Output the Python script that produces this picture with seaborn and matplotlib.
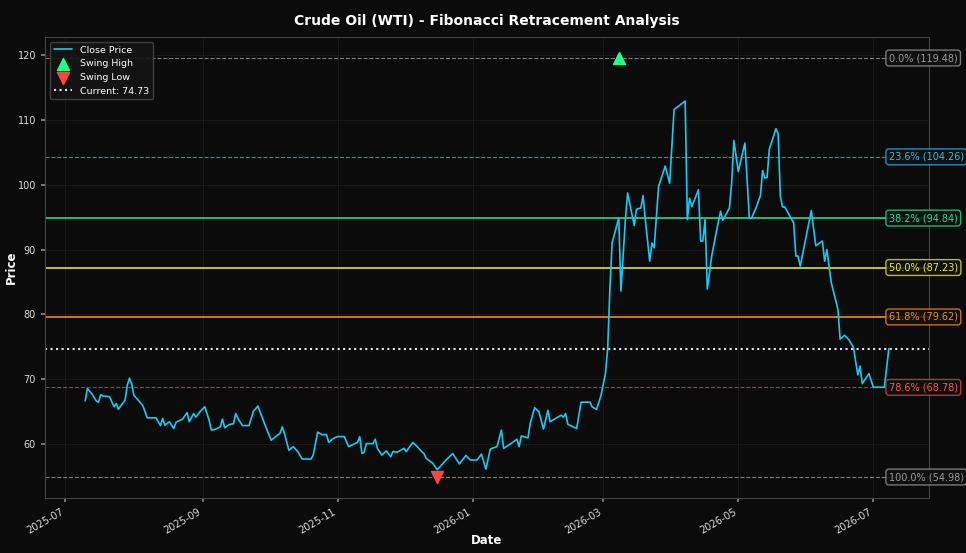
import pandas as pd
import numpy as np
import seaborn as sns
import matplotlib.pyplot as plt
import matplotlib.dates as mdates

sns.set_theme(style="darkgrid")
plt.rcParams['font.family'] = ['DejaVu Sans']

# Close prices
dates = [
    "2025-07-10", "2025-07-11", "2025-07-13", "2025-07-15", "2025-07-16", "2025-07-17", "2025-07-18",
    "2025-07-21", "2025-07-23", "2025-07-24", "2025-07-25", "2025-07-26", "2025-07-28", "2025-07-29",
    "2025-07-30", "2025-07-31", "2025-08-01", "2025-08-03", "2025-08-05", "2025-08-07", "2025-08-11",
    "2025-08-13", "2025-08-14", "2025-08-15", "2025-08-17", "2025-08-19", "2025-08-20", "2025-08-23",
    "2025-08-25", "2025-08-26", "2025-08-28", "2025-08-29", "2025-08-31", "2025-09-02", "2025-09-04",
    "2025-09-05", "2025-09-07", "2025-09-09", "2025-09-10", "2025-09-11", "2025-09-13", "2025-09-15",
    "2025-09-16", "2025-09-17", "2025-09-19", "2025-09-22", "2025-09-24", "2025-09-26", "2025-09-27",
    "2025-09-29", "2025-10-02", "2025-10-04", "2025-10-06", "2025-10-07", "2025-10-08", "2025-10-10",
    "2025-10-12", "2025-10-14", "2025-10-16", "2025-10-20", "2025-10-21", "2025-10-23", "2025-10-25",
    "2025-10-27", "2025-10-28", "2025-10-30", "2025-11-01", "2025-11-04", "2025-11-06", "2025-11-08",
    "2025-11-10", "2025-11-11", "2025-11-12", "2025-11-13", "2025-11-14", "2025-11-17", "2025-11-18",
    "2025-11-19", "2025-11-21", "2025-11-23", "2025-11-25", "2025-11-26", "2025-11-28", "2025-12-01",
    "2025-12-02", "2025-12-05", "2025-12-07", "2025-12-09", "2025-12-10", "2025-12-11", "2025-12-14",
    "2025-12-16", "2025-12-20", "2025-12-23", "2025-12-26", "2025-12-29", "2025-12-31", "2026-01-03",
    "2026-01-05", "2026-01-07", "2026-01-09", "2026-01-12", "2026-01-14", "2026-01-15", "2026-01-18",
    "2026-01-21", "2026-01-22", "2026-01-23", "2026-01-26", "2026-01-27", "2026-01-29", "2026-01-31",
    "2026-02-02", "2026-02-04", "2026-02-05", "2026-02-08", "2026-02-10", "2026-02-11", "2026-02-12",
    "2026-02-13", "2026-02-17", "2026-02-19", "2026-02-23", "2026-02-24", "2026-02-26", "2026-02-28",
    "2026-03-02", "2026-03-03", "2026-03-04", "2026-03-05", "2026-03-08", "2026-03-09", "2026-03-11",
    "2026-03-12", "2026-03-15", "2026-03-16", "2026-03-18", "2026-03-19", "2026-03-20", "2026-03-22",
    "2026-03-23", "2026-03-24", "2026-03-26", "2026-03-29", "2026-03-31", "2026-04-02", "2026-04-07",
    "2026-04-08", "2026-04-09", "2026-04-10", "2026-04-13", "2026-04-14", "2026-04-15", "2026-04-16",
    "2026-04-17", "2026-04-19", "2026-04-21", "2026-04-23", "2026-04-24", "2026-04-27", "2026-04-28",
    "2026-04-29", "2026-05-01", "2026-05-04", "2026-05-06", "2026-05-07", "2026-05-09", "2026-05-11",
    "2026-05-12", "2026-05-13", "2026-05-14", "2026-05-15", "2026-05-18", "2026-05-19", "2026-05-20",
    "2026-05-21", "2026-05-22", "2026-05-26", "2026-05-27", "2026-05-28", "2026-05-29", "2026-06-03",
    "2026-06-05", "2026-06-08", "2026-06-09", "2026-06-10", "2026-06-12", "2026-06-15", "2026-06-16",
    "2026-06-18", "2026-06-20", "2026-06-22", "2026-06-24", "2026-06-25", "2026-06-26", "2026-06-29",
    "2026-06-30", "2026-07-01", "2026-07-06", "2026-07-08",
]
close = [
    66.7, 68.6, 67.8, 66.7, 66.5, 67.65, 67.45,
    67.35, 65.8, 66.3, 65.4, 65.9, 66.8, 69.1,
    70.2, 69.3, 67.55, 66.8, 66.0, 64.1, 64.1,
    62.9, 64.0, 62.95, 63.5, 62.45, 63.4, 63.9,
    64.9, 63.5, 64.75, 64.2, 65.1, 65.8, 63.7,
    62.2, 62.35, 62.7, 63.9, 62.55, 63.05, 63.2,
    64.75, 64.0, 62.9, 62.9, 65.1, 65.9, 65.0,
    63.2, 60.65, 61.2, 61.7, 62.7, 61.7, 59.1,
    59.65, 58.9, 57.75, 57.75, 58.35, 61.9, 61.5,
    61.5, 60.3, 60.9, 61.2, 61.2, 59.65, 60.0,
    60.3, 61.2, 58.6, 58.8, 60.15, 60.1, 60.8,
    59.4, 58.35, 59.0, 58.1, 58.9, 58.8, 59.4,
    58.9, 60.3, 59.65, 58.9, 58.6, 57.85, 57.1,
    56.1, 57.6, 58.6, 57.0, 58.3, 57.6, 57.6,
    58.5, 56.2, 59.3, 59.65, 62.2, 59.4, 60.05,
    60.8, 59.65, 61.3, 61.0, 63.2, 65.65, 65.0,
    62.35, 65.25, 63.5, 64.1, 64.5, 64.2, 64.75,
    63.1, 62.45, 66.5, 66.5, 65.77, 65.4, 67.55,
    70.9, 74.7, 83.9, 91.0, 94.85, 83.6, 94.6,
    98.7, 93.7, 96.2, 96.4, 98.3, 94.6, 88.2,
    91.0, 90.25, 99.7, 102.85, 100.2, 111.55, 112.85,
    94.6, 97.9, 96.6, 99.2, 91.3, 91.3, 94.6,
    83.9, 89.0, 92.55, 95.9, 94.5, 96.4, 100.2,
    106.8, 102.0, 106.4, 94.85, 94.85, 96.4, 98.3,
    102.15, 101.0, 101.1, 105.4, 108.6, 107.85, 98.2,
    96.55, 96.55, 94.1, 89.0, 89.0, 87.45, 96.0,
    90.6, 91.3, 88.2, 90.0, 84.9, 80.8, 76.2,
    76.8, 76.1, 74.95, 70.7, 72.05, 69.35, 70.9,
    69.85, 68.8, 68.8, 74.73,
]

swing_high_date = "2026-03-08"
swing_high = 119.48
swing_low_date = "2025-12-16"
swing_low = 54.98
current = 74.73

fib_names = ["0.0%", "23.6%", "38.2%", "50.0%", "61.8%", "78.6%", "100.0%"]
fib_values = [119.48, 104.26, 94.84, 87.23, 79.62, 68.78, 54.98]
fib_colors = ["#8a8a8a", "#2ea3cf", "#1ed184", "#d8d822", "#e8821e", "#c8403a", "#8a8a8a"]
fib_text_colors = ["#9a9a9a", "#3cb8e8", "#2bdc8c", "#f0f040", "#f08a30", "#ff5555", "#9a9a9a"]
fib_styles = ["--", "--", "-", "-", "-", "--", "--"]

df = pd.DataFrame({"Date": pd.to_datetime(dates), "Close": close})

bg = "#0b0b0b"
fig, ax = plt.subplots(figsize=(9.66, 5.53), dpi=100)
fig.patch.set_facecolor(bg)
ax.set_facecolor(bg)
fig.subplots_adjust(left=0.0466, right=0.9617, top=0.933, bottom=0.0995)

for name, val, col, ls in zip(fib_names, fib_values, fib_colors, fib_styles):
    lw = 1.4 if ls == "-" else 0.8
    ax.axhline(val, color=col, linestyle=ls, linewidth=lw, alpha=0.9, zorder=1)

sns.lineplot(data=df, x="Date", y="Close", ax=ax, color="#19c9f2", linewidth=1.2,
             label="Close Price", zorder=3)
ax.scatter(pd.to_datetime([swing_high_date]), [swing_high], marker="^", s=75,
           color="#22ff8a", label="Swing High", zorder=5)
ax.scatter(pd.to_datetime([swing_low_date]), [swing_low], marker="v", s=75,
           color="#ff4545", label="Swing Low", zorder=5)
ax.axhline(current, color="white", linestyle=":", linewidth=1.5, alpha=0.9,
           label=f"Current: {current:.2f}", zorder=2)

last = df["Date"].iloc[-1]
for name, val, col, tcol in zip(fib_names, fib_values, fib_colors, fib_text_colors):
    ax.text(last, val, f"{name} ({val:.2f})", color=tcol, fontsize=7, ha="left", va="center",
            zorder=6, clip_on=False,
            bbox=dict(boxstyle="round,pad=0.3", facecolor="#111111", edgecolor=col, alpha=0.85))

ax.xaxis.set_major_locator(mdates.MonthLocator(interval=2))
ax.xaxis.set_major_formatter(mdates.DateFormatter("%Y-%m"))
plt.setp(ax.get_xticklabels(), rotation=30, ha="right")
ax.tick_params(colors="#dddddd", labelsize=7, length=3)
ax.tick_params(axis="both", which="major", bottom=True, left=True, color="#888888")
ax.grid(True, color="#333333", linewidth=0.5, alpha=0.5)
for s in ax.spines.values():
    s.set_color("#444444")
    s.set_linewidth(0.8)

ax.set_title("Crude Oil (WTI) - Fibonacci Retracement Analysis", color="white",
             fontsize=10, fontweight="bold", pad=9)
ax.set_xlabel("Date", color="white", fontsize=8.5, fontweight="bold", labelpad=-1.5)
ax.set_ylabel("Price", color="white", fontsize=8.5, fontweight="bold", labelpad=-0.5)

leg = ax.legend(loc="upper left", fontsize=6.8, facecolor="#151515", edgecolor="#444444",
                framealpha=0.9)
for t in leg.get_texts():
    t.set_color("white")

fig.savefig("out.png", dpi=100, facecolor=bg)
